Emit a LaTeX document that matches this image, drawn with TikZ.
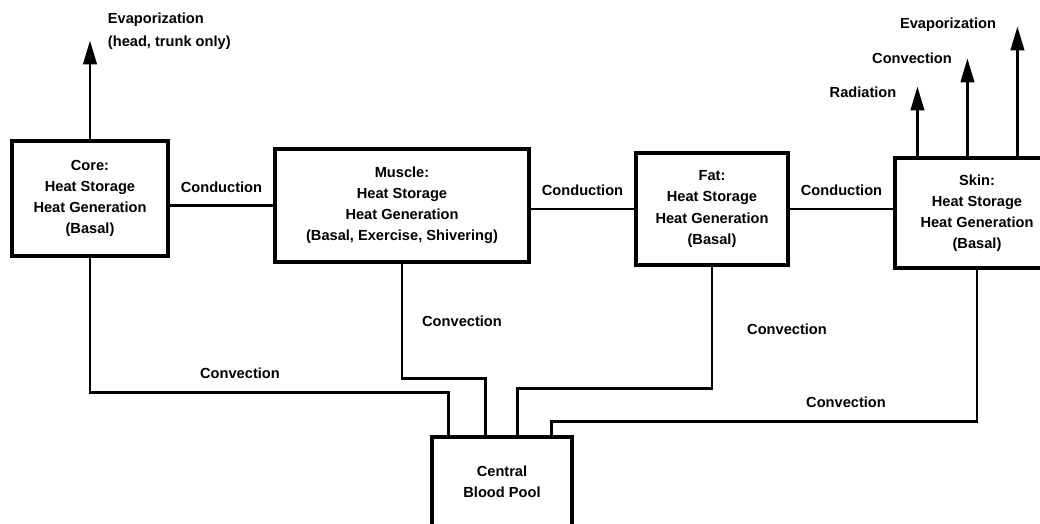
\documentclass[tikz,border=0pt]{standalone}
\usepackage{fontspec}
\setmainfont{Liberation Sans}
\usetikzlibrary{arrows.meta,calc,positioning}
\tikzset{
  lbl/.style={font=\bfseries\fontsize{10.4}{15}\selectfont},
  box/.style={draw, line width=2.2pt, align=center, inner sep=0pt, lbl},
  flow/.style={line width=2pt},
  loss/.style={flow, -{Triangle[length=17pt,width=9.5pt]}}
}
\begin{document}
\begin{tikzpicture}[x=0.025cm, y=-0.025cm]
    \useasboundingbox (0,0) rectangle (1040,524);
    \clip (0,0) rectangle (1040,524);
    \node[box, minimum width=3.9cm, minimum height=2.875cm] (core) at (90,198.5)
        {Core:\\Heat Storage\\Heat Generation\\(Basal)};
    \node[box, minimum width=6.35cm, minimum height=2.825cm] (muscle) at (402,205.5)
        {Muscle:\\Heat Storage\\Heat Generation\\(Basal, Exercise, Shivering)};
    \node[box, minimum width=3.8cm, minimum height=2.8cm] (fat) at (712,209)
        {Fat:\\Heat Storage\\Heat Generation\\(Basal)};
    \node[box, minimum width=4.1cm, minimum height=2.75cm] (skin) at (977,213)
        {Skin:\\Heat Storage\\Heat Generation\\(Basal)};
    \node[box, minimum width=3.5cm, minimum height=2.25cm] (pool) at (502,482)
        {Central\\Blood Pool};
    \draw[flow] (muscle.west) -- (muscle.west -| core.east)
        node[midway, above=5pt, lbl] (cond1) {Conduction};
    \draw[flow] (fat.west) -- (fat.west -| muscle.east)
        node[midway, above=5pt, lbl] (cond2) {Conduction};
    \draw[flow] (fat.east) -- (fat.east -| skin.west)
        node[midway, above=5pt, lbl] (cond3) {Conduction};
    \draw[flow] (core.south) -- ++(0,135) -| ($(pool.north west)+(18,0)$);
    \draw[flow] (muscle.south) -- ++(0,115) -| ($(pool.north west)+(55,0)$);
    \draw[flow] (fat.south) -- ++(0,122) -| ($(pool.north west)+(87,0)$);
    \draw[flow] (skin.south) -- ++(0,152) -| ($(pool.north west)+(121,0)$);
    \node[lbl] (conv1) at (240,373) {Convection};
    \node[lbl] (conv2) at (462,321) {Convection};
    \node[lbl] (conv3) at (787,329) {Convection};
    \node[lbl] (conv4) at (846,402) {Convection};
    \draw[loss] (core.north) -- ++(0,-99);
    \node[lbl, align=left, anchor=west] (evcore) at (103,31)
        {Evaporization\\[1pt](head, trunk only)};
    \foreach \dx/\len in {24/70, 74/98, 124/130}
        \draw[loss] ($(skin.north west)+(\dx,0)$) -- ++(0,-\len);
    \node[lbl] (rad) at (863,92) {Radiation};
    \node[lbl] (convskin) at (912,58) {Convection};
    \node[lbl] (evskin) at (948,25) {Evaporization};
\end{tikzpicture}
\end{document}
